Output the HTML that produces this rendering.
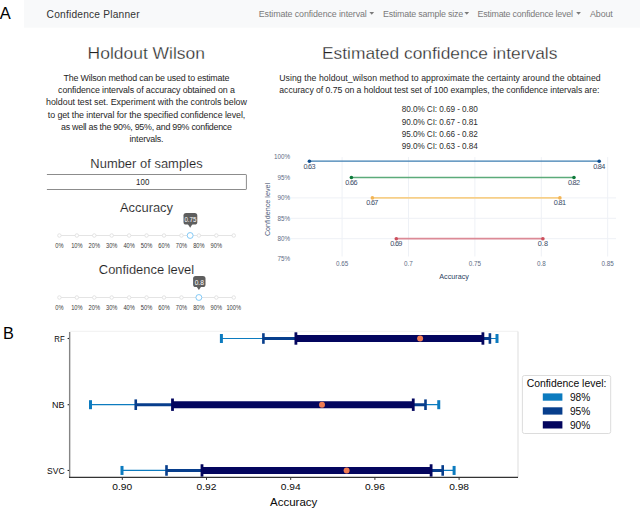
<!DOCTYPE html>
<html><head><meta charset="utf-8"><style>
html,body{margin:0;padding:0;background:#fff;width:640px;height:509px;overflow:hidden}
svg{display:block;font-family:"Liberation Sans", sans-serif}
</style></head><body>
<svg width="640" height="509" viewBox="0 0 640 509">
<text x="-0.3" y="19.4" font-size="16.5" fill="#000" text-anchor="start" >A</text>
<rect x="24" y="0" width="616" height="27.7" fill="#f8f9fa" />
<text x="46.6" y="17.6" font-size="10.2" fill="#333" text-anchor="start" textLength="93">Confidence Planner</text>
<text x="258.8" y="16.6" font-size="8.9" fill="#7a7a7a" text-anchor="start" textLength="108">Estimate confidence interval</text>
<path d="M369.4 12.1 l4.7 0 l-2.35 2.7 z" fill="#7a7a7a"/>
<text x="383.1" y="16.6" font-size="8.9" fill="#7a7a7a" text-anchor="start" textLength="80">Estimate sample size</text>
<path d="M464.4 12.1 l4.7 0 l-2.35 2.7 z" fill="#7a7a7a"/>
<text x="477.5" y="16.6" font-size="8.9" fill="#7a7a7a" text-anchor="start" textLength="95.5">Estimate confidence level</text>
<path d="M576.2 12.1 l4.7 0 l-2.35 2.7 z" fill="#7a7a7a"/>
<text x="590" y="16.6" font-size="8.9" fill="#7a7a7a" text-anchor="start" textLength="22.8">About</text>
<text x="146.3" y="58.5" font-size="16.6" fill="#222" text-anchor="middle" textLength="117.5" lengthAdjust="spacingAndGlyphs" stroke="#fff" stroke-width="0.3">Holdout Wilson</text>
<text x="439.7" y="58.6" font-size="16.6" fill="#222" text-anchor="middle" textLength="235.4" lengthAdjust="spacingAndGlyphs" stroke="#fff" stroke-width="0.3">Estimated confidence intervals</text>
<text x="146.5" y="80.9" font-size="8.9" fill="#262626" text-anchor="middle" textLength="166">The Wilson method can be used to estimate</text>
<text x="146.5" y="93.10000000000001" font-size="8.9" fill="#262626" text-anchor="middle" textLength="176.8">confidence intervals of accuracy obtained on a</text>
<text x="146.5" y="105.30000000000001" font-size="8.9" fill="#262626" text-anchor="middle" textLength="200.9">holdout test set. Experiment with the controls below</text>
<text x="146.5" y="117.5" font-size="8.9" fill="#262626" text-anchor="middle" textLength="197.5">to get the interval for the specified confidence level,</text>
<text x="146.5" y="129.7" font-size="8.9" fill="#262626" text-anchor="middle" textLength="170.9">as well as the 90%, 95%, and 99% confidence</text>
<text x="146.5" y="141.9" font-size="8.9" fill="#262626" text-anchor="middle" textLength="33.9">intervals.</text>
<text x="440" y="80.7" font-size="8.7" fill="#262626" text-anchor="middle" textLength="321.4">Using the holdout_wilson method to approximate the certainty around the obtained</text>
<text x="439.35" y="92.9" font-size="8.7" fill="#262626" text-anchor="middle" textLength="320.1">accuracy of 0.75 on a holdout test set of 100 examples, the confidence intervals are:</text>
<text x="439.75" y="112.3" font-size="8.2" fill="#2e2e2e" text-anchor="middle" textLength="76.1">80.0% CI: 0.69 - 0.80</text>
<text x="439.75" y="124.6" font-size="8.2" fill="#2e2e2e" text-anchor="middle" textLength="76.1">90.0% CI: 0.67 - 0.81</text>
<text x="439.75" y="136.9" font-size="8.2" fill="#2e2e2e" text-anchor="middle" textLength="76.1">95.0% CI: 0.66 - 0.82</text>
<text x="439.75" y="149.2" font-size="8.2" fill="#2e2e2e" text-anchor="middle" textLength="76.1">99.0% CI: 0.63 - 0.84</text>
<text x="146.5" y="167.5" font-size="12.9" fill="#222" text-anchor="middle" textLength="112.3" stroke="#fff" stroke-width="0.12">Number of samples</text>
<path d="M46.9 174.5 H245.9 Q246.4 174.5 246.4 175 V189 Q246.4 189.5 245.9 189.5 H46.9" fill="none" stroke="#8c8c8c" stroke-width="1"/>
<text x="142.7" y="184.9" font-size="8.3" fill="#1e1e1e" text-anchor="middle" textLength="13.2" lengthAdjust="spacingAndGlyphs">100</text>
<text x="146.5" y="212" font-size="12.9" fill="#222" text-anchor="middle" stroke="#fff" stroke-width="0.12">Accuracy</text>
<line x1="59.4" y1="235.5" x2="233.75" y2="235.5" stroke="#e4e4e4" stroke-width="1.2" />
<circle cx="59.4" cy="235.5" r="1.75" fill="#fff" stroke="#e0e0e0" stroke-width="0.9"/>
<circle cx="76.835" cy="235.5" r="1.75" fill="#fff" stroke="#e0e0e0" stroke-width="0.9"/>
<circle cx="94.27" cy="235.5" r="1.75" fill="#fff" stroke="#e0e0e0" stroke-width="0.9"/>
<circle cx="111.70499999999998" cy="235.5" r="1.75" fill="#fff" stroke="#e0e0e0" stroke-width="0.9"/>
<circle cx="129.14" cy="235.5" r="1.75" fill="#fff" stroke="#e0e0e0" stroke-width="0.9"/>
<circle cx="146.575" cy="235.5" r="1.75" fill="#fff" stroke="#e0e0e0" stroke-width="0.9"/>
<circle cx="164.01" cy="235.5" r="1.75" fill="#fff" stroke="#e0e0e0" stroke-width="0.9"/>
<circle cx="181.445" cy="235.5" r="1.75" fill="#fff" stroke="#e0e0e0" stroke-width="0.9"/>
<circle cx="198.88" cy="235.5" r="1.75" fill="#fff" stroke="#e0e0e0" stroke-width="0.9"/>
<circle cx="216.315" cy="235.5" r="1.75" fill="#fff" stroke="#e0e0e0" stroke-width="0.9"/>
<circle cx="233.75" cy="235.5" r="1.75" fill="#fff" stroke="#e0e0e0" stroke-width="0.9"/>
<text x="59.4" y="247.8" font-size="6.5" fill="#3a3a3a" text-anchor="middle" textLength="8.24" lengthAdjust="spacingAndGlyphs">0%</text>
<text x="76.835" y="247.8" font-size="6.5" fill="#3a3a3a" text-anchor="middle" textLength="11.41" lengthAdjust="spacingAndGlyphs">10%</text>
<text x="94.27" y="247.8" font-size="6.5" fill="#3a3a3a" text-anchor="middle" textLength="11.41" lengthAdjust="spacingAndGlyphs">20%</text>
<text x="111.70499999999998" y="247.8" font-size="6.5" fill="#3a3a3a" text-anchor="middle" textLength="11.41" lengthAdjust="spacingAndGlyphs">30%</text>
<text x="129.14" y="247.8" font-size="6.5" fill="#3a3a3a" text-anchor="middle" textLength="11.41" lengthAdjust="spacingAndGlyphs">40%</text>
<text x="146.575" y="247.8" font-size="6.5" fill="#3a3a3a" text-anchor="middle" textLength="11.41" lengthAdjust="spacingAndGlyphs">50%</text>
<text x="164.01" y="247.8" font-size="6.5" fill="#3a3a3a" text-anchor="middle" textLength="11.41" lengthAdjust="spacingAndGlyphs">60%</text>
<text x="181.445" y="247.8" font-size="6.5" fill="#3a3a3a" text-anchor="middle" textLength="11.41" lengthAdjust="spacingAndGlyphs">70%</text>
<text x="198.88" y="247.8" font-size="6.5" fill="#3a3a3a" text-anchor="middle" textLength="11.41" lengthAdjust="spacingAndGlyphs">80%</text>
<text x="216.315" y="247.8" font-size="6.5" fill="#3a3a3a" text-anchor="middle" textLength="11.41" lengthAdjust="spacingAndGlyphs">90%</text>
<rect x="183.5" y="212.9" width="13.800000000000011" height="11.699999999999989" rx="2.6" fill="#5e5e5e"/>
<path d="M187.7625 224.1 L190.1625 227.7 L192.5625 224.1 z" fill="#5e5e5e"/>
<text x="190.4" y="222.1" font-size="7.3" fill="#fff" text-anchor="middle" textLength="12" lengthAdjust="spacingAndGlyphs">0.75</text>
<circle cx="190.1625" cy="235.5" r="2.95" fill="#fff" stroke="#7cc6f6" stroke-width="0.95"/>
<text x="146.5" y="273.5" font-size="12.9" fill="#222" text-anchor="middle" stroke="#fff" stroke-width="0.12">Confidence level</text>
<line x1="59.4" y1="297.5" x2="233.75" y2="297.5" stroke="#e4e4e4" stroke-width="1.2" />
<circle cx="59.4" cy="297.5" r="1.75" fill="#fff" stroke="#e0e0e0" stroke-width="0.9"/>
<circle cx="76.835" cy="297.5" r="1.75" fill="#fff" stroke="#e0e0e0" stroke-width="0.9"/>
<circle cx="94.27" cy="297.5" r="1.75" fill="#fff" stroke="#e0e0e0" stroke-width="0.9"/>
<circle cx="111.70499999999998" cy="297.5" r="1.75" fill="#fff" stroke="#e0e0e0" stroke-width="0.9"/>
<circle cx="129.14" cy="297.5" r="1.75" fill="#fff" stroke="#e0e0e0" stroke-width="0.9"/>
<circle cx="146.575" cy="297.5" r="1.75" fill="#fff" stroke="#e0e0e0" stroke-width="0.9"/>
<circle cx="164.01" cy="297.5" r="1.75" fill="#fff" stroke="#e0e0e0" stroke-width="0.9"/>
<circle cx="181.445" cy="297.5" r="1.75" fill="#fff" stroke="#e0e0e0" stroke-width="0.9"/>
<circle cx="198.88" cy="297.5" r="1.75" fill="#fff" stroke="#e0e0e0" stroke-width="0.9"/>
<circle cx="216.315" cy="297.5" r="1.75" fill="#fff" stroke="#e0e0e0" stroke-width="0.9"/>
<circle cx="233.75" cy="297.5" r="1.75" fill="#fff" stroke="#e0e0e0" stroke-width="0.9"/>
<text x="59.4" y="309.8" font-size="6.5" fill="#3a3a3a" text-anchor="middle" textLength="8.24" lengthAdjust="spacingAndGlyphs">0%</text>
<text x="76.835" y="309.8" font-size="6.5" fill="#3a3a3a" text-anchor="middle" textLength="11.41" lengthAdjust="spacingAndGlyphs">10%</text>
<text x="94.27" y="309.8" font-size="6.5" fill="#3a3a3a" text-anchor="middle" textLength="11.41" lengthAdjust="spacingAndGlyphs">20%</text>
<text x="111.70499999999998" y="309.8" font-size="6.5" fill="#3a3a3a" text-anchor="middle" textLength="11.41" lengthAdjust="spacingAndGlyphs">30%</text>
<text x="129.14" y="309.8" font-size="6.5" fill="#3a3a3a" text-anchor="middle" textLength="11.41" lengthAdjust="spacingAndGlyphs">40%</text>
<text x="146.575" y="309.8" font-size="6.5" fill="#3a3a3a" text-anchor="middle" textLength="11.41" lengthAdjust="spacingAndGlyphs">50%</text>
<text x="164.01" y="309.8" font-size="6.5" fill="#3a3a3a" text-anchor="middle" textLength="11.41" lengthAdjust="spacingAndGlyphs">60%</text>
<text x="181.445" y="309.8" font-size="6.5" fill="#3a3a3a" text-anchor="middle" textLength="11.41" lengthAdjust="spacingAndGlyphs">70%</text>
<text x="198.88" y="309.8" font-size="6.5" fill="#3a3a3a" text-anchor="middle" textLength="11.41" lengthAdjust="spacingAndGlyphs">80%</text>
<text x="216.315" y="309.8" font-size="6.5" fill="#3a3a3a" text-anchor="middle" textLength="11.41" lengthAdjust="spacingAndGlyphs">90%</text>
<text x="233.75" y="309.8" font-size="6.5" fill="#3a3a3a" text-anchor="middle" textLength="14.57" lengthAdjust="spacingAndGlyphs">100%</text>
<rect x="193.1" y="275.9" width="12.400000000000006" height="11.200000000000045" rx="2.6" fill="#5e5e5e"/>
<path d="M196.48 286.6 L198.88 289.9 L201.28 286.6 z" fill="#5e5e5e"/>
<text x="199.3" y="284.6" font-size="7.3" fill="#fff" text-anchor="middle" textLength="9.2" lengthAdjust="spacingAndGlyphs">0.8</text>
<circle cx="198.88" cy="297.5" r="2.95" fill="#fff" stroke="#7cc6f6" stroke-width="0.95"/>
<line x1="291" y1="197.89999999999998" x2="616" y2="197.89999999999998" stroke="#eef1f6" stroke-width="1" />
<line x1="291" y1="218.29999999999998" x2="616" y2="218.29999999999998" stroke="#eef1f6" stroke-width="1" />
<line x1="291" y1="238.7" x2="616" y2="238.7" stroke="#eef1f6" stroke-width="1" />
<line x1="342.1" y1="157.1" x2="342.1" y2="256.5" stroke="#eef1f6" stroke-width="1" />
<line x1="408.49999999999994" y1="157.1" x2="408.49999999999994" y2="256.5" stroke="#eef1f6" stroke-width="1" />
<line x1="474.9" y1="157.1" x2="474.9" y2="256.5" stroke="#eef1f6" stroke-width="1" />
<line x1="541.3000000000001" y1="157.1" x2="541.3000000000001" y2="256.5" stroke="#eef1f6" stroke-width="1" />
<line x1="607.7" y1="157.1" x2="607.7" y2="256.5" stroke="#eef1f6" stroke-width="1" />
<text x="290" y="159.4" font-size="6.3" fill="#5d6b84" text-anchor="end" >100%</text>
<text x="290" y="179.8" font-size="6.3" fill="#5d6b84" text-anchor="end" >95%</text>
<text x="290" y="200.2" font-size="6.3" fill="#5d6b84" text-anchor="end" >90%</text>
<text x="290" y="220.6" font-size="6.3" fill="#5d6b84" text-anchor="end" >85%</text>
<text x="290" y="241.0" font-size="6.3" fill="#5d6b84" text-anchor="end" >80%</text>
<text x="290" y="261.40000000000003" font-size="6.3" fill="#5d6b84" text-anchor="end" >75%</text>
<text x="342.1" y="266.2" font-size="6.3" fill="#5d6b84" text-anchor="middle" >0.65</text>
<text x="408.49999999999994" y="266.2" font-size="6.3" fill="#5d6b84" text-anchor="middle" >0.7</text>
<text x="474.9" y="266.2" font-size="6.3" fill="#5d6b84" text-anchor="middle" >0.75</text>
<text x="541.3000000000001" y="266.2" font-size="6.3" fill="#5d6b84" text-anchor="middle" >0.8</text>
<text x="607.7" y="266.2" font-size="6.3" fill="#5d6b84" text-anchor="middle" >0.85</text>
<text x="454.1" y="279.1" font-size="7.2" fill="#2a3f5f" text-anchor="middle" >Accuracy</text>
<text x="0" y="0" font-size="7.2" fill="#4d5a78" text-anchor="middle" transform="translate(269.5 209.5) rotate(-90)">Confidence level</text>
<line x1="309.43119999999993" y1="161.18" x2="599.2008000000001" y2="161.18" stroke="#3b7cb0" stroke-width="1.3" />
<circle cx="309.43119999999993" cy="161.18" r="1.8" fill="#0f4f8f" />
<circle cx="599.2008000000001" cy="161.18" r="1.8" fill="#0f4f8f" />
<text x="309.43119999999993" y="168.68" font-size="7.3" fill="#3a4a66" text-anchor="middle" textLength="12.1">0.63</text>
<text x="599.2008000000001" y="168.68" font-size="7.3" fill="#3a4a66" text-anchor="middle" textLength="12.1">0.84</text>
<line x1="351.396" y1="177.5" x2="573.9688" y2="177.5" stroke="#5cab7a" stroke-width="1.6" />
<circle cx="351.396" cy="177.5" r="1.8" fill="#0e7a3a" />
<circle cx="573.9688" cy="177.5" r="1.8" fill="#0e7a3a" />
<text x="351.396" y="185.0" font-size="7.3" fill="#3a4a66" text-anchor="middle" textLength="12.1">0.66</text>
<text x="573.9688" y="185.0" font-size="7.3" fill="#3a4a66" text-anchor="middle" textLength="12.1">0.82</text>
<line x1="372.37839999999994" y1="197.89999999999998" x2="559.8919999999999" y2="197.89999999999998" stroke="#f7cf88" stroke-width="1.8" />
<circle cx="372.37839999999994" cy="197.89999999999998" r="1.8" fill="#f2b455" />
<circle cx="559.8919999999999" cy="197.89999999999998" r="1.8" fill="#f2b455" />
<text x="372.37839999999994" y="205.39999999999998" font-size="7.3" fill="#3a4a66" text-anchor="middle" textLength="12.1">0.67</text>
<text x="559.8919999999999" y="205.39999999999998" font-size="7.3" fill="#3a4a66" text-anchor="middle" textLength="12.1">0.81</text>
<line x1="396.28239999999994" y1="238.7" x2="542.8936000000001" y2="238.7" stroke="#dc8a96" stroke-width="1.7" />
<circle cx="396.28239999999994" cy="238.7" r="1.8" fill="#cc4f5c" />
<circle cx="542.8936000000001" cy="238.7" r="1.8" fill="#cc4f5c" />
<text x="396.28239999999994" y="246.2" font-size="7.3" fill="#3a4a66" text-anchor="middle" textLength="12.1">0.69</text>
<text x="542.8936000000001" y="246.2" font-size="7.3" fill="#3a4a66" text-anchor="middle" >0.8</text>
<text x="3.0" y="339" font-size="16.3" fill="#000" text-anchor="start" >B</text>
<line x1="69.5" y1="331.3" x2="518" y2="331.3" stroke="#f0f0f0" stroke-width="1" />
<line x1="518" y1="331.5" x2="518" y2="477.4" stroke="#dddddd" stroke-width="1" />
<line x1="221.4" y1="338.5" x2="497" y2="338.5" stroke="#0c7bbf" stroke-width="1.2" />
<rect x="219.9" y="334.0" width="3" height="9" fill="#0c7bbf" />
<rect x="495.5" y="334.0" width="3" height="9" fill="#0c7bbf" />
<line x1="263.4" y1="338.5" x2="489.9" y2="338.5" stroke="#073e8c" stroke-width="3" />
<rect x="262.09999999999997" y="333.2" width="2.6" height="10.6" fill="#073e8c" />
<rect x="488.59999999999997" y="333.2" width="2.6" height="10.6" fill="#073e8c" />
<line x1="295.9" y1="338.5" x2="482.9" y2="338.5" stroke="#03055e" stroke-width="7" />
<rect x="294.5" y="332.3" width="2.8" height="12.4" fill="#03055e" />
<rect x="481.5" y="332.3" width="2.8" height="12.4" fill="#03055e" />
<circle cx="420.1" cy="338.5" r="3" fill="#ef7b53" />
<line x1="67.6" y1="338.5" x2="69.5" y2="338.5" stroke="#222" stroke-width="1.1" />
<text x="64.6" y="341.7" font-size="9.2" fill="#0a0a0a" text-anchor="end" textLength="10.3" lengthAdjust="spacingAndGlyphs">RF</text>
<line x1="90.5" y1="404.7" x2="438.75" y2="404.7" stroke="#0c7bbf" stroke-width="1.2" />
<rect x="89.0" y="400.2" width="3" height="9" fill="#0c7bbf" />
<rect x="437.25" y="400.2" width="3" height="9" fill="#0c7bbf" />
<line x1="135.75" y1="404.7" x2="425.5" y2="404.7" stroke="#073e8c" stroke-width="3" />
<rect x="134.45" y="399.4" width="2.6" height="10.6" fill="#073e8c" />
<rect x="424.2" y="399.4" width="2.6" height="10.6" fill="#073e8c" />
<line x1="172.5" y1="404.7" x2="413.25" y2="404.7" stroke="#03055e" stroke-width="7" />
<rect x="171.1" y="398.5" width="2.8" height="12.4" fill="#03055e" />
<rect x="411.85" y="398.5" width="2.8" height="12.4" fill="#03055e" />
<circle cx="322" cy="404.7" r="3" fill="#ef7b53" />
<line x1="67.6" y1="404.7" x2="69.5" y2="404.7" stroke="#222" stroke-width="1.1" />
<text x="64.6" y="407.9" font-size="9.2" fill="#0a0a0a" text-anchor="end" textLength="12.5" lengthAdjust="spacingAndGlyphs">NB</text>
<line x1="122" y1="470.45" x2="454.1" y2="470.45" stroke="#0c7bbf" stroke-width="1.2" />
<rect x="120.5" y="465.95" width="3" height="9" fill="#0c7bbf" />
<rect x="452.6" y="465.95" width="3" height="9" fill="#0c7bbf" />
<line x1="166.5" y1="470.45" x2="442.7" y2="470.45" stroke="#073e8c" stroke-width="3" />
<rect x="165.2" y="465.15" width="2.6" height="10.6" fill="#073e8c" />
<rect x="441.4" y="465.15" width="2.6" height="10.6" fill="#073e8c" />
<line x1="202" y1="470.45" x2="431.1" y2="470.45" stroke="#03055e" stroke-width="7" />
<rect x="200.6" y="464.25" width="2.8" height="12.4" fill="#03055e" />
<rect x="429.70000000000005" y="464.25" width="2.8" height="12.4" fill="#03055e" />
<circle cx="346.6" cy="470.45" r="3" fill="#ef7b53" />
<line x1="67.6" y1="470.45" x2="69.5" y2="470.45" stroke="#222" stroke-width="1.1" />
<text x="64.6" y="473.65" font-size="9.2" fill="#0a0a0a" text-anchor="end" textLength="17.5" lengthAdjust="spacingAndGlyphs">SVC</text>
<line x1="69.65" y1="332" x2="69.65" y2="477" stroke="#858585" stroke-width="1.4" />
<line x1="69" y1="477.4" x2="518" y2="477.4" stroke="#333" stroke-width="1.3" />
<line x1="122.3" y1="477.4" x2="122.3" y2="479.9" stroke="#333" stroke-width="1" />
<text x="122.3" y="489.5" font-size="9.6" fill="#0a0a0a" text-anchor="middle" textLength="19.9" lengthAdjust="spacingAndGlyphs">0.90</text>
<line x1="206.50000000000006" y1="477.4" x2="206.50000000000006" y2="479.9" stroke="#333" stroke-width="1" />
<text x="206.50000000000006" y="489.5" font-size="9.6" fill="#0a0a0a" text-anchor="middle" textLength="19.9" lengthAdjust="spacingAndGlyphs">0.92</text>
<line x1="290.6999999999997" y1="477.4" x2="290.6999999999997" y2="479.9" stroke="#333" stroke-width="1" />
<text x="290.6999999999997" y="489.5" font-size="9.6" fill="#0a0a0a" text-anchor="middle" textLength="19.9" lengthAdjust="spacingAndGlyphs">0.94</text>
<line x1="374.89999999999975" y1="477.4" x2="374.89999999999975" y2="479.9" stroke="#333" stroke-width="1" />
<text x="374.89999999999975" y="489.5" font-size="9.6" fill="#0a0a0a" text-anchor="middle" textLength="19.9" lengthAdjust="spacingAndGlyphs">0.96</text>
<line x1="459.09999999999985" y1="477.4" x2="459.09999999999985" y2="479.9" stroke="#333" stroke-width="1" />
<text x="459.09999999999985" y="489.5" font-size="9.6" fill="#0a0a0a" text-anchor="middle" textLength="19.9" lengthAdjust="spacingAndGlyphs">0.98</text>
<text x="293.7" y="505.6" font-size="10.6" fill="#0a0a0a" text-anchor="middle" textLength="47.4" lengthAdjust="spacingAndGlyphs">Accuracy</text>
<rect x="522.4" y="375.5" width="88.3" height="58" rx="2" fill="#fff" stroke="#d8d8d8" stroke-width="0.9"/>
<text x="566.5" y="387.4" font-size="10.4" fill="#0a0a0a" text-anchor="middle" textLength="79.7">Confidence level:</text>
<rect x="542.8" y="393.4" width="19.6" height="7.3" fill="#0c7bbf" />
<text x="570" y="401.0" font-size="10.2" fill="#0a0a0a" text-anchor="start" textLength="20.3">98%</text>
<rect x="542.8" y="407.29999999999995" width="19.6" height="7.3" fill="#073e8c" />
<text x="570" y="414.9" font-size="10.2" fill="#0a0a0a" text-anchor="start" textLength="20.3">95%</text>
<rect x="542.8" y="421.2" width="19.6" height="7.3" fill="#03055e" />
<text x="570" y="428.8" font-size="10.2" fill="#0a0a0a" text-anchor="start" textLength="20.3">90%</text>
</svg>
</body></html>
